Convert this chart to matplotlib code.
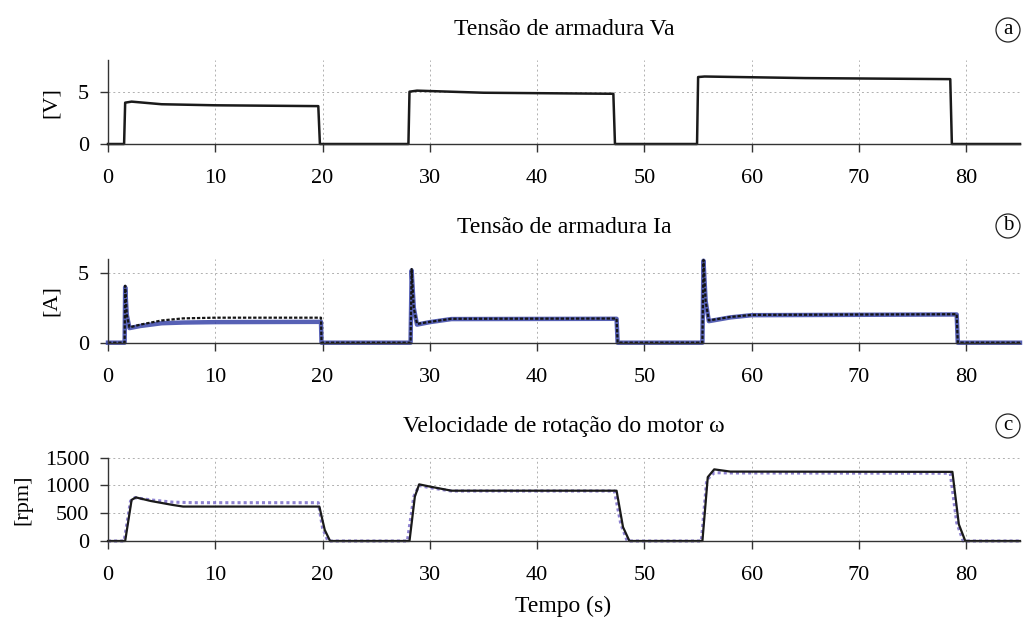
import matplotlib
matplotlib.use("Agg")
import matplotlib.pyplot as plt

plt.rcParams['font.family'] = ['Liberation Serif', 'DejaVu Serif']

# ---- data ----
# (a) armature voltage, measured
va_t = [0, 1.5, 1.6, 2.2, 5, 10, 19.6, 19.75, 28.0, 28.1, 28.8, 35, 47.1, 47.25,
        54.9, 55.0, 55.6, 65, 78.5, 78.65, 85]
va_v = [0, 0, 3.95, 4.05, 3.8, 3.7, 3.62, 0, 0, 5.0, 5.1, 4.9, 4.8, 0,
        0, 6.4, 6.45, 6.3, 6.2, 0, 0]

# (b) armature current, measured (black) and model (blue)
ia_t = [0, 1.55, 1.6, 1.75, 2.0, 3, 5, 7, 10, 19.85, 19.9, 28.2, 28.3, 28.5, 28.8,
        30, 32, 47.4, 47.5, 55.4, 55.5, 55.7, 56, 58, 60, 79.1, 79.2, 85]
ia_meas = [0, 0, 4.1, 2.0, 1.1, 1.3, 1.6, 1.75, 1.8, 1.8, 0, 0, 5.3, 2.5, 1.35,
           1.5, 1.72, 1.74, 0, 0, 5.95, 3.0, 1.6, 1.85, 2.0, 2.05, 0, 0]
ia_model = [0, 0, 4.0, 2.0, 1.05, 1.2, 1.4, 1.45, 1.48, 1.5, 0, 0, 5.2, 2.5, 1.3,
            1.48, 1.7, 1.72, 0, 0, 5.9, 3.0, 1.55, 1.82, 1.98, 2.03, 0, 0]

# (c) motor speed, measured (black) and model (blue dotted)
w_t_meas = [0, 1.6, 2.2, 2.6, 4, 6, 7, 19.7, 20.2, 20.7, 28.1, 28.6, 29.0, 30, 32,
            47.4, 48.0, 48.6, 55.4, 55.9, 56.5, 58, 78.7, 79.3, 79.9, 85]
w_meas = [0, 0, 740, 785, 720, 650, 620, 620, 200, 0, 0, 800, 1020, 980, 906,
          906, 250, 0, 0, 1150, 1290, 1250, 1245, 300, 0, 0]
w_t_model = [0, 1.5, 2.1, 2.5, 4, 6, 8, 19.6, 20.0, 20.5, 27.9, 28.5, 29.0, 30, 32,
             47.2, 47.8, 48.4, 55.3, 55.8, 56.5, 58, 78.5, 79.1, 79.7, 85]
w_model = [0, 0, 720, 780, 740, 700, 690, 690, 230, 0, 0, 800, 1000, 960, 900,
           900, 300, 0, 0, 1100, 1230, 1225, 1220, 330, 0, 0]

titles = ["Tensão de armadura Va", "Tensão de armadura Ia",
          "Velocidade de rotação do motor ω"]
ylabels = ["[V]", "[A]", "[rpm]"]
letters = ["a", "b", "c"]
yticks = [[0, 5], [0, 5], [0, 500, 1000, 1500]]
ylims = [(0, 8), (0, 6), (0, 1500)]
xticks = [0, 10, 20, 30, 40, 50, 60, 70, 80]

W, H = 1024, 619
fig = plt.figure(figsize=(W / 100, H / 100), dpi=100)
left, width = 108 / W, 912 / W
tops_px = [60.3, 259.3, 457.7]
bots_px = [144, 342.7, 541]
title_base = [35, 233, 432]
circle_y = [30, 226, 426]
ylabel_x = [51, 51, 23]

TICK_FS = 16
TITLE_FS = 17

axes = []
for k in range(3):
    b = 1 - bots_px[k] / H
    h = (bots_px[k] - tops_px[k]) / H
    ax = fig.add_axes([left, b, width, h])
    axes.append(ax)
    ax.set_xlim(0, 85)
    ax.set_ylim(*ylims[k])
    ax.set_xticks(xticks)
    ax.set_yticks(yticks[k])
    for s in ['top', 'right']:
        ax.spines[s].set_visible(False)
    for s in ['left', 'bottom']:
        ax.spines[s].set_color('#333333')
        ax.spines[s].set_linewidth(1.0)
    ax.tick_params(direction='out', length=5.5, width=1, color='#333333',
                   labelsize=TICK_FS)
    ax.tick_params(axis='x', pad=12.5)
    ax.tick_params(axis='y', pad=8)
    ax.grid(True, linestyle=(0, (2, 3)), color='#b0b0b0', linewidth=0.7)
    ax.set_axisbelow(True)
    ax.patch.set_alpha(0)
    fig.text(left + width / 2, 1 - title_base[k] / H, titles[k], ha='center',
             va='baseline', fontsize=TITLE_FS)
    fig.text(1008 / W, 1 - circle_y[k] / H, letters[k], ha='center',
             va='center', fontsize=15,
             bbox=dict(boxstyle='circle,pad=0.12', fc='none', ec='#222222', lw=0.9))
    fig.text(ylabel_x[k] / W, 1 - (tops_px[k] + bots_px[k]) / 2 / H,
             ylabels[k], rotation=90, ha='center', va='center', fontsize=TICK_FS)

ax = axes[0]
ax.plot(va_t, va_v, color='#1a1a1a', lw=1.8, clip_on=False)

ax = axes[1]
ax.plot(ia_t, ia_model, color='#3a45a8', lw=3.2, alpha=0.85, clip_on=False)
ax.plot(ia_t, ia_meas, color='#151515', lw=1.6, linestyle=(0, (1.5, 0.8)),
        clip_on=False)

ax = axes[2]
ax.plot(w_t_model, w_model, color='#7a6cc8', lw=2.2, linestyle=(0, (1, 1)),
        alpha=0.85, clip_on=False)
ax.plot(w_t_meas, w_meas, color='#1a1a1a', lw=1.6, clip_on=False)

fig.text(563 / W, 1 - 612 / H, "Tempo (s)", ha='center', va='baseline',
         fontsize=TITLE_FS)

fig.savefig("out.png", dpi=100)
